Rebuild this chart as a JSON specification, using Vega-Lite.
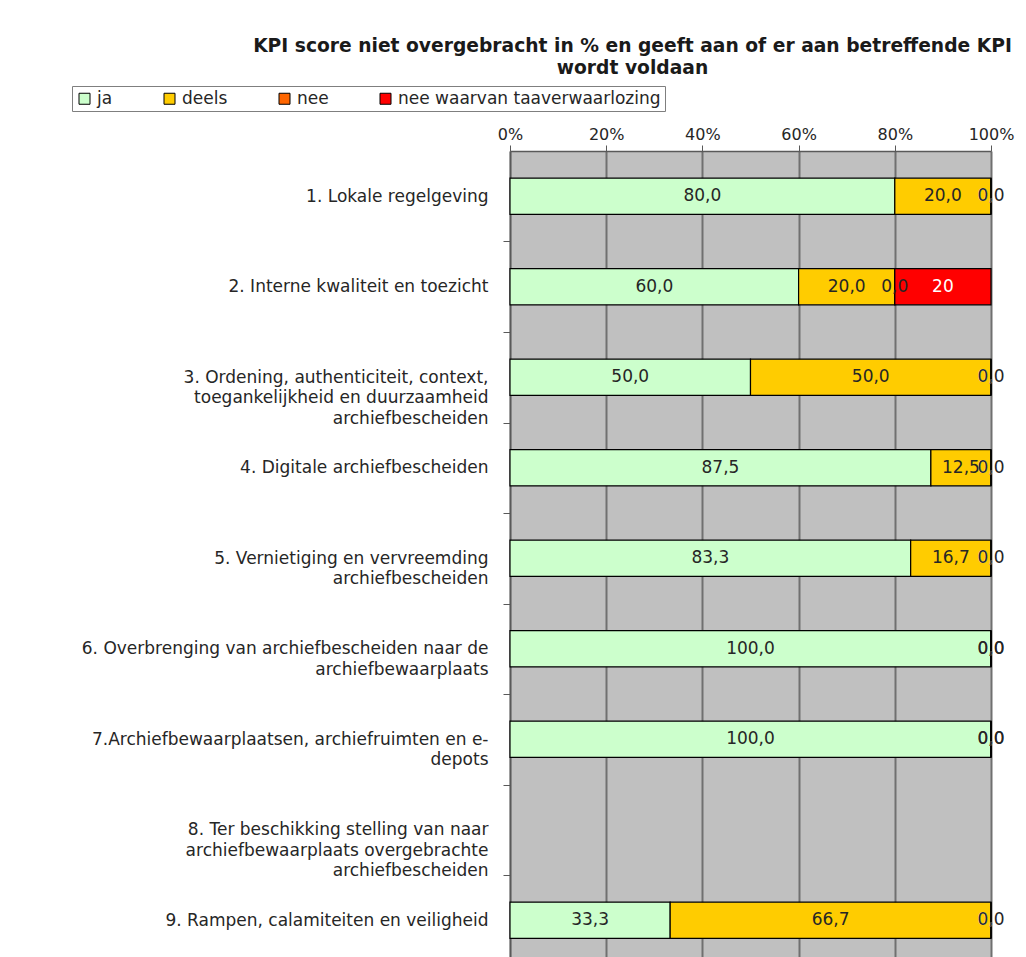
{
  "$schema": "https://vega.github.io/schema/vega-lite/v6.json",
  "autosize": {"type": "none"},
  "width": 481,
  "height": 814.5,
  "padding": {"left": 510, "top": 151, "right": 35, "bottom": 0},
  "background": "white",
  "title": {
    "text": ["KPI score niet overgebracht in % en geeft aan of er aan betreffende KPI", "wordt voldaan"],
    "font": "DejaVu Sans",
    "fontSize": 18.7,
    "fontWeight": "bold",
    "color": "#1a1a1a",
    "anchor": "middle",
    "dx": -118,
    "offset": 8,
    "lineHeight": 22
  },
  "data": {
    "values": [
      {"cat": "1. Lokale regelgeving", "cls": "ja", "ord": 1, "value": 80, "label": "80,0"},
      {"cat": "1. Lokale regelgeving", "cls": "deels", "ord": 2, "value": 20, "label": "20,0"},
      {"cat": "1. Lokale regelgeving", "cls": "nee", "ord": 3, "value": 0, "label": "0,0"},
      {"cat": "1. Lokale regelgeving", "cls": "nee waarvan taaverwaarlozing", "ord": 4, "value": 0, "label": "0,0"},
      {"cat": "2. Interne kwaliteit en toezicht", "cls": "ja", "ord": 1, "value": 60, "label": "60,0"},
      {"cat": "2. Interne kwaliteit en toezicht", "cls": "deels", "ord": 2, "value": 20, "label": "20,0"},
      {"cat": "2. Interne kwaliteit en toezicht", "cls": "nee", "ord": 3, "value": 0, "label": "0,0"},
      {"cat": "2. Interne kwaliteit en toezicht", "cls": "nee waarvan taaverwaarlozing", "ord": 4, "value": 20, "label": "20"},
      {"cat": "3. Ordening, authenticiteit, context,|toegankelijkheid en duurzaamheid|archiefbescheiden", "cls": "ja", "ord": 1, "value": 50, "label": "50,0"},
      {"cat": "3. Ordening, authenticiteit, context,|toegankelijkheid en duurzaamheid|archiefbescheiden", "cls": "deels", "ord": 2, "value": 50, "label": "50,0"},
      {"cat": "3. Ordening, authenticiteit, context,|toegankelijkheid en duurzaamheid|archiefbescheiden", "cls": "nee", "ord": 3, "value": 0, "label": "0,0"},
      {"cat": "3. Ordening, authenticiteit, context,|toegankelijkheid en duurzaamheid|archiefbescheiden", "cls": "nee waarvan taaverwaarlozing", "ord": 4, "value": 0, "label": "0,0"},
      {"cat": "4. Digitale archiefbescheiden", "cls": "ja", "ord": 1, "value": 87.5, "label": "87,5"},
      {"cat": "4. Digitale archiefbescheiden", "cls": "deels", "ord": 2, "value": 12.5, "label": "12,5"},
      {"cat": "4. Digitale archiefbescheiden", "cls": "nee", "ord": 3, "value": 0, "label": "0,0"},
      {"cat": "4. Digitale archiefbescheiden", "cls": "nee waarvan taaverwaarlozing", "ord": 4, "value": 0, "label": "0,0"},
      {"cat": "5. Vernietiging en vervreemding|archiefbescheiden", "cls": "ja", "ord": 1, "value": 83.3, "label": "83,3"},
      {"cat": "5. Vernietiging en vervreemding|archiefbescheiden", "cls": "deels", "ord": 2, "value": 16.7, "label": "16,7"},
      {"cat": "5. Vernietiging en vervreemding|archiefbescheiden", "cls": "nee", "ord": 3, "value": 0, "label": "0,0"},
      {"cat": "5. Vernietiging en vervreemding|archiefbescheiden", "cls": "nee waarvan taaverwaarlozing", "ord": 4, "value": 0, "label": "0,0"},
      {"cat": "6. Overbrenging van archiefbescheiden naar de|archiefbewaarplaats", "cls": "ja", "ord": 1, "value": 100, "label": "100,0"},
      {"cat": "6. Overbrenging van archiefbescheiden naar de|archiefbewaarplaats", "cls": "deels", "ord": 2, "value": 0, "label": "0,0"},
      {"cat": "6. Overbrenging van archiefbescheiden naar de|archiefbewaarplaats", "cls": "nee", "ord": 3, "value": 0, "label": "0,0"},
      {"cat": "6. Overbrenging van archiefbescheiden naar de|archiefbewaarplaats", "cls": "nee waarvan taaverwaarlozing", "ord": 4, "value": 0, "label": "0,0"},
      {"cat": "7.Archiefbewaarplaatsen, archiefruimten en e-|depots", "cls": "ja", "ord": 1, "value": 100, "label": "100,0"},
      {"cat": "7.Archiefbewaarplaatsen, archiefruimten en e-|depots", "cls": "deels", "ord": 2, "value": 0, "label": "0,0"},
      {"cat": "7.Archiefbewaarplaatsen, archiefruimten en e-|depots", "cls": "nee", "ord": 3, "value": 0, "label": "0,0"},
      {"cat": "7.Archiefbewaarplaatsen, archiefruimten en e-|depots", "cls": "nee waarvan taaverwaarlozing", "ord": 4, "value": 0, "label": "0,0"},
      {"cat": "9. Rampen, calamiteiten en veiligheid", "cls": "ja", "ord": 1, "value": 33.3, "label": "33,3"},
      {"cat": "9. Rampen, calamiteiten en veiligheid", "cls": "deels", "ord": 2, "value": 66.7, "label": "66,7"},
      {"cat": "9. Rampen, calamiteiten en veiligheid", "cls": "nee", "ord": 3, "value": 0, "label": "0,0"},
      {"cat": "9. Rampen, calamiteiten en veiligheid", "cls": "nee waarvan taaverwaarlozing", "ord": 4, "value": 0, "label": "0,0"}
    ]
  },
  "transform": [
    {"stack": "value", "groupby": ["cat"], "sort": [{"field": "ord", "order": "ascending"}], "as": ["x0", "x1"]},
    {"calculate": "(datum.x0 + datum.x1) / 2", "as": "xm"}
  ],
  "encoding": {
    "y": {
      "field": "cat",
      "type": "nominal",
      "scale": {
        "domain": [
          "1. Lokale regelgeving",
          "2. Interne kwaliteit en toezicht",
          "3. Ordening, authenticiteit, context,|toegankelijkheid en duurzaamheid|archiefbescheiden",
          "4. Digitale archiefbescheiden",
          "5. Vernietiging en vervreemding|archiefbescheiden",
          "6. Overbrenging van archiefbescheiden naar de|archiefbewaarplaats",
          "7.Archiefbewaarplaatsen, archiefruimten en e-|depots",
          "8. Ter beschikking stelling van naar|archiefbewaarplaats overgebrachte|archiefbescheiden",
          "9. Rampen, calamiteiten en veiligheid"
        ],
        "paddingInner": 0.6,
        "paddingOuter": 0.3
      },
      "axis": {
        "title": null,
        "labelExpr": "split(datum.label, '|')",
        "labelFont": "DejaVu Sans",
        "labelFontSize": 17,
        "labelColor": "#262626",
        "labelLineHeight": 20.5,
        "labelAlign": "right",
        "labelBaseline": "middle",
        "labelPadding": 15,
        "labelLimit": 600,
        "tickOffset": 45.25,
        "labelOffset": -45.25,
        "tickSize": 7,
        "tickColor": "#595959",
        "domainColor": "#595959",
        "domainWidth": 1.5,
        "grid": false
      }
    }
  },
  "layer": [
    {
      "mark": {"type": "bar", "stroke": "black", "strokeWidth": 1.2},
      "encoding": {
        "x": {
          "field": "x0",
          "type": "quantitative",
          "scale": {"domain": [0, 100], "nice": false},
          "axis": {
            "orient": "top",
            "title": null,
            "values": [0, 20, 40, 60, 80, 100],
            "labelExpr": "datum.value + '%'",
            "labelFont": "DejaVu Sans",
            "labelFontSize": 16,
            "labelColor": "#262626",
            "labelPadding": 3,
            "labelFlush": false,
            "labelOverlap": false,
            "tickSize": 6,
            "tickColor": "#595959",
            "domainColor": "#595959",
            "domainWidth": 1.5,
            "grid": true,
            "gridColor": "#707070",
            "gridWidth": 2
          }
        },
        "x2": {"field": "x1"},
        "color": {
          "field": "cls",
          "type": "nominal",
          "scale": {
            "domain": ["ja", "deels", "nee", "nee waarvan taaverwaarlozing"],
            "range": ["#CCFFCC", "#FFCC00", "#FF6600", "#FF0000"]
          },
          "legend": {
            "title": null,
            "orient": "none",
            "direction": "horizontal",
            "columns": 4,
            "legendX": -438,
            "legendY": -65,
            "padding": 4,
            "strokeColor": "#7f7f7f",
            "fillColor": "white",
            "symbolType": "square",
            "symbolSize": 121,
            "symbolStrokeColor": "black",
            "symbolStrokeWidth": 1,
            "symbolOpacity": 1,
            "labelFont": "DejaVu Sans",
            "labelFontSize": 17,
            "labelColor": "#262626",
            "labelLimit": 500,
            "labelOffset": 4,
            "columnPadding": 48
          }
        }
      }
    },
    {
      "mark": {"type": "text", "font": "DejaVu Sans", "fontSize": 17, "baseline": "middle", "align": "center"},
      "encoding": {
        "x": {"field": "xm", "type": "quantitative"},
        "text": {"field": "label"},
        "order": {"field": "ord", "sort": "descending"},
        "color": {
          "condition": {"test": "datum.cls === 'nee waarvan taaverwaarlozing'", "value": "white"},
          "value": "#262626"
        }
      }
    }
  ],
  "config": {
    "view": {"fill": "#C0C0C0", "stroke": null}
  }
}
